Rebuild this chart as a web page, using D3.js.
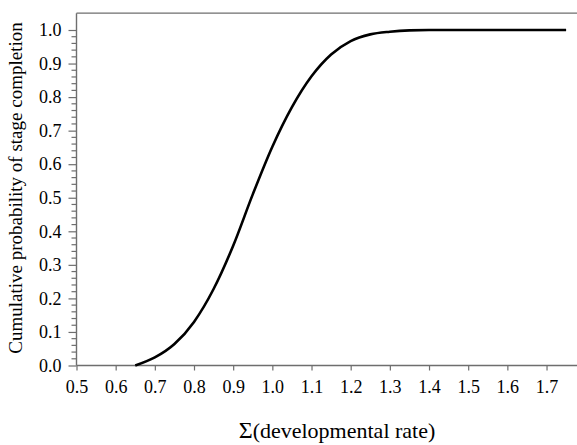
<!DOCTYPE html>
<html>
<head>
<meta charset="utf-8">
<script src="https://cdn.jsdelivr.net/npm/d3@7"></script>
<style>
  body { margin: 0; background: #fff; }
  svg { display: block; }
</style>
</head>
<body>
<script>
// values
var rate = [0.65, 0.70, 0.75, 0.80, 0.85, 0.90, 0.95, 1.00, 1.05, 1.10, 1.15, 1.20, 1.25, 1.30, 1.35, 1.40, 1.50, 1.60, 1.75]
var prob = [0.000, 0.024, 0.064, 0.130, 0.228, 0.357, 0.510, 0.652, 0.770, 0.862, 0.927, 0.967, 0.987, 0.995, 0.999, 1.000, 1.000, 1.000, 1.000]
var xTicks = [0.5, 0.6, 0.7, 0.8, 0.9, 1.0, 1.1, 1.2, 1.3, 1.4, 1.5, 1.6, 1.7]
var yTicks = [0.0, 0.1, 0.2, 0.3, 0.4, 0.5, 0.6, 0.7, 0.8, 0.9, 1.0]

var width = 577, height = 445
var axisColor = "#6e6e6e"
var serif = "Liberation Serif"

var x = d3.scaleLinear().domain([0.5, 1.8]).range([76.5, 585.7])
var y = d3.scaleLinear().domain([0, 1]).range([365.5, 30])

const svg = d3.select("body").append("svg")
    .attr("width", width)
    .attr("height", height)

// frame top
svg.append("line")
    .attr("x1", x(0.5)).attr("x2", x(1.8))
    .attr("y1", y(1.05)).attr("y2", y(1.05))
    .attr("stroke", axisColor).attr("stroke-width", 1.2)

// y axis
const yAxis = svg.append("g")
    .attr("transform", `translate(${x(0.5)},0)`)
    .call(d3.axisLeft(y).tickValues(yTicks).tickFormat(d3.format(".1f")).tickSize(8).tickPadding(7))
yAxis.select(".domain").remove()
yAxis.selectAll("line").attr("stroke", axisColor).attr("stroke-width", 1.2)
yAxis.selectAll("text").attr("fill", "#000")
    .style("font-family", serif).style("font-size", "18px")

const minor = d3.range(0, 1.0001, 0.02).filter(d => Math.abs(d * 10 - Math.round(d * 10)) > 1e-6)
svg.append("g").selectAll("line").data(minor).join("line")
    .attr("x1", x(0.5) - 5).attr("x2", x(0.5))
    .attr("y1", d => y(d)).attr("y2", d => y(d))
    .attr("stroke", axisColor).attr("stroke-width", 1.2)

svg.append("line")
    .attr("x1", x(0.5)).attr("x2", x(0.5))
    .attr("y1", y(0)).attr("y2", y(1.05))
    .attr("stroke", axisColor).attr("stroke-width", 1.4)

// x axis
const xAxis = svg.append("g")
    .attr("transform", `translate(0,${y(0)})`)
    .call(d3.axisBottom(x).tickValues(xTicks).tickFormat(d3.format(".1f")).tickSize(5).tickPadding(10))
xAxis.select(".domain").remove()
xAxis.selectAll("line").attr("stroke", axisColor).attr("stroke-width", 1.2)
xAxis.selectAll("text").attr("fill", "#000")
    .style("font-family", serif).style("font-size", "18px")

svg.append("line")
    .attr("x1", x(0.5)).attr("x2", x(1.8))
    .attr("y1", y(0)).attr("y2", y(0))
    .attr("stroke", axisColor).attr("stroke-width", 1.4)

// curve
const line = d3.line()
    .x(d => x(d[0]))
    .y(d => y(d[1]))
    .curve(d3.curveMonotoneX)

svg.append("path")
    .datum(rate.map((r, i) => [r, prob[i]]))
    .attr("d", line)
    .attr("fill", "none")
    .attr("stroke", "#000")
    .attr("stroke-width", 2.6)

// labels
svg.append("text")
    .attr("transform", "translate(22,188) rotate(-90)")
    .attr("text-anchor", "middle")
    .style("font-family", serif)
    .style("font-size", "19px")
    .text("Cumulative probability of stage completion")

const xl = svg.append("text")
    .attr("x", 337)
    .attr("y", 438)
    .attr("text-anchor", "middle")
    .style("font-family", serif)
xl.append("tspan").style("font-size", "24px").text("Σ")
xl.append("tspan").style("font-size", "22px").text("(developmental rate)")
</script>
</body>
</html>
